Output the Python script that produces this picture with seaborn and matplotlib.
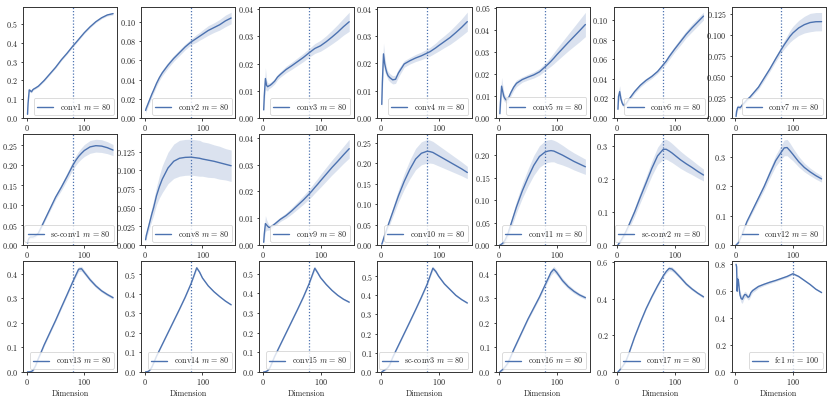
import numpy as np
import pandas as pd
import matplotlib
matplotlib.use("Agg")
import matplotlib.pyplot as plt
from matplotlib.ticker import MultipleLocator, FixedLocator
import seaborn as sns

# ---------------- data ----------------
DIM = [1, 2, 4, 6, 8, 10, 12, 15, 20, 25, 30, 40, 50, 60, 70, 80, 85, 90, 95, 100, 110, 120, 130, 140, 150]
FC1_DIM = [1, 2, 3, 4, 5, 6, 7, 8, 10, 12, 14, 16, 18, 20, 22, 24, 27, 30, 35, 40, 50, 60, 70, 80, 90, 100, 110, 120, 130, 140, 150]

labels = ["conv1", "conv2", "conv3", "conv4", "conv5", "conv6", "conv7",
          "sc-conv1", "conv8", "conv9", "conv10", "conv11", "sc-conv2", "conv12",
          "conv13", "conv14", "conv15", "sc-conv3", "conv16", "conv17", "fc1"]
m_values = [80] * 20 + [100]
ytick_steps = [0.1, 0.02, 0.01, 0.01, 0.01, 0.02, 0.025,
               0.05, 0.025, 0.01, 0.05, 0.05, 0.1, 0.1,
               0.1, 0.1, 0.1, 0.1, 0.1, 0.2, 0.2]

conv1_mean = [0.02, 0.08, 0.15, 0.145, 0.14, 0.15, 0.155, 0.16, 0.17, 0.185, 0.2, 0.235, 0.27, 0.31, 0.345, 0.383, 0.4, 0.418, 0.436, 0.454, 0.485, 0.512, 0.533, 0.548, 0.555]
conv1_err = [0.003, 0.01, 0.01, 0.008, 0.006, 0.005, 0.005, 0.005, 0.005, 0.005, 0.005, 0.005, 0.005, 0.005, 0.005, 0.005, 0.005, 0.005, 0.005, 0.005, 0.005, 0.005, 0.005, 0.006, 0.007]

conv2_mean = [0.008, 0.01, 0.013, 0.016, 0.019, 0.022, 0.025, 0.029, 0.036, 0.042, 0.047, 0.055, 0.062, 0.068, 0.074, 0.079, 0.081, 0.083, 0.085, 0.087, 0.091, 0.094, 0.097, 0.101, 0.104]
conv2_err = [0.003, 0.003, 0.003, 0.003, 0.003, 0.003, 0.003, 0.003, 0.003, 0.003, 0.003, 0.003, 0.003, 0.003, 0.003, 0.003, 0.0035, 0.004, 0.004, 0.0045, 0.005, 0.005, 0.0055, 0.006, 0.006]

conv3_mean = [0.003, 0.008, 0.0145, 0.012, 0.0115, 0.0118, 0.012, 0.0125, 0.0135, 0.015, 0.016, 0.0178, 0.0192, 0.0207, 0.0222, 0.0239, 0.0247, 0.0255, 0.026, 0.0265, 0.028, 0.0297, 0.0315, 0.0335, 0.0353]
conv3_err = [0.001, 0.003, 0.004, 0.002, 0.0015, 0.001, 0.001, 0.001, 0.001, 0.001, 0.001, 0.0012, 0.0013, 0.0014, 0.0015, 0.0016, 0.0017, 0.0018, 0.0019, 0.002, 0.0022, 0.0025, 0.0028, 0.0031, 0.0035]

conv4_mean = [0.005, 0.013, 0.0235, 0.02, 0.018, 0.0165, 0.0155, 0.0148, 0.014, 0.0142, 0.0165, 0.0198, 0.021, 0.022, 0.0228, 0.0238, 0.0243, 0.025, 0.0257, 0.0265, 0.028, 0.0295, 0.0313, 0.0332, 0.0353]
conv4_err = [0.002, 0.004, 0.004, 0.003, 0.002, 0.0015, 0.0015, 0.0015, 0.0015, 0.0015, 0.0015, 0.0012, 0.0012, 0.0013, 0.0014, 0.0015, 0.0016, 0.0017, 0.0018, 0.002, 0.0022, 0.0025, 0.0028, 0.0031, 0.0035]

conv5_mean = [0.002, 0.007, 0.0145, 0.012, 0.0098, 0.0088, 0.0082, 0.0085, 0.0115, 0.014, 0.0158, 0.0175, 0.0186, 0.0196, 0.021, 0.0233, 0.0245, 0.0258, 0.0272, 0.0287, 0.0315, 0.0343, 0.037, 0.0397, 0.0425]
conv5_err = [0.001, 0.003, 0.004, 0.003, 0.002, 0.0015, 0.0015, 0.0015, 0.0015, 0.0015, 0.0015, 0.0012, 0.0013, 0.0014, 0.0015, 0.0017, 0.0019, 0.0022, 0.0025, 0.0028, 0.0033, 0.0038, 0.0044, 0.005, 0.0055]

conv6_mean = [0.009, 0.022, 0.027, 0.02, 0.016, 0.0135, 0.013, 0.0145, 0.019, 0.023, 0.027, 0.0335, 0.0385, 0.0425, 0.0475, 0.0545, 0.058, 0.0625, 0.0665, 0.0705, 0.078, 0.0855, 0.092, 0.098, 0.104]
conv6_err = [0.003, 0.006, 0.006, 0.004, 0.003, 0.002, 0.002, 0.002, 0.002, 0.002, 0.002, 0.002, 0.002, 0.002, 0.002, 0.0025, 0.0025, 0.003, 0.003, 0.003, 0.0035, 0.0035, 0.004, 0.004, 0.004]

conv7_mean = [0.002, 0.008, 0.013, 0.013, 0.0125, 0.014, 0.016, 0.018, 0.022, 0.025, 0.029, 0.037, 0.048, 0.059, 0.071, 0.0825, 0.088, 0.093, 0.098, 0.102, 0.108, 0.112, 0.1145, 0.1155, 0.1156]
conv7_err = [0.002, 0.003, 0.003, 0.002, 0.002, 0.002, 0.002, 0.002, 0.002, 0.002, 0.002, 0.0025, 0.003, 0.003, 0.0035, 0.004, 0.005, 0.006, 0.007, 0.008, 0.009, 0.01, 0.011, 0.011, 0.011]

scconv1_mean = [0.005, 0.012, 0.018, 0.02, 0.02, 0.02, 0.021, 0.023, 0.03, 0.045, 0.06, 0.09, 0.12, 0.145, 0.172, 0.2, 0.212, 0.222, 0.23, 0.237, 0.246, 0.249, 0.248, 0.244, 0.238]
scconv1_err = [0.003, 0.004, 0.004, 0.004, 0.004, 0.004, 0.004, 0.004, 0.004, 0.004, 0.004, 0.005, 0.006, 0.008, 0.009, 0.011, 0.012, 0.013, 0.014, 0.015, 0.016, 0.016, 0.016, 0.015, 0.014]

conv8_mean = [0.007, 0.012, 0.018, 0.024, 0.03, 0.036, 0.042, 0.05, 0.066, 0.078, 0.088, 0.103, 0.112, 0.116, 0.1172, 0.1175, 0.117, 0.1165, 0.116, 0.115, 0.1135, 0.112, 0.11, 0.108, 0.106]
conv8_err = [0.003, 0.004, 0.005, 0.006, 0.007, 0.008, 0.009, 0.01, 0.012, 0.015, 0.018, 0.021, 0.023, 0.024, 0.024, 0.024, 0.024, 0.024, 0.024, 0.023, 0.023, 0.022, 0.022, 0.021, 0.021]

conv9_mean = [0.001, 0.004, 0.008, 0.0075, 0.007, 0.0066, 0.0066, 0.007, 0.0078, 0.0087, 0.0096, 0.011, 0.0128, 0.0148, 0.0168, 0.019, 0.0202, 0.0215, 0.0227, 0.024, 0.0265, 0.029, 0.0313, 0.0337, 0.036]
conv9_err = [0.001, 0.002, 0.003, 0.002, 0.0015, 0.001, 0.0008, 0.0008, 0.0008, 0.0008, 0.0008, 0.001, 0.0012, 0.0014, 0.0016, 0.0018, 0.002, 0.0021, 0.0022, 0.0024, 0.0026, 0.0028, 0.003, 0.0032, 0.0035]

conv10_mean = [0.002, 0.006, 0.015, 0.024, 0.032, 0.04, 0.048, 0.06, 0.08, 0.1, 0.12, 0.155, 0.185, 0.21, 0.224, 0.229, 0.228, 0.226, 0.222, 0.218, 0.21, 0.202, 0.194, 0.186, 0.177]
conv10_err = [0.002, 0.003, 0.004, 0.005, 0.006, 0.007, 0.008, 0.009, 0.011, 0.013, 0.015, 0.019, 0.023, 0.026, 0.028, 0.029, 0.028, 0.027, 0.026, 0.025, 0.023, 0.021, 0.019, 0.017, 0.015]

conv11_mean = [0.0, 0.0005, 0.002, 0.004, 0.007, 0.011, 0.016, 0.025, 0.045, 0.065, 0.085, 0.12, 0.15, 0.177, 0.197, 0.207, 0.209, 0.21, 0.209, 0.206, 0.2, 0.193, 0.186, 0.18, 0.174]
conv11_err = [0.001, 0.001, 0.002, 0.003, 0.004, 0.005, 0.006, 0.007, 0.009, 0.011, 0.013, 0.016, 0.019, 0.022, 0.024, 0.025, 0.025, 0.025, 0.024, 0.024, 0.022, 0.02, 0.019, 0.018, 0.017]

scconv2_mean = [0.0, 0.003, 0.008, 0.013, 0.019, 0.025, 0.031, 0.041, 0.06, 0.08, 0.1, 0.145, 0.188, 0.232, 0.27, 0.29, 0.29, 0.285, 0.279, 0.272, 0.258, 0.246, 0.235, 0.223, 0.212]
scconv2_err = [0.002, 0.003, 0.004, 0.005, 0.006, 0.006, 0.007, 0.008, 0.01, 0.012, 0.013, 0.016, 0.019, 0.022, 0.026, 0.03, 0.03, 0.03, 0.029, 0.028, 0.026, 0.024, 0.022, 0.02, 0.018]

conv12_mean = [0.0, 0.002, 0.005, 0.012, 0.02, 0.03, 0.038, 0.055, 0.08, 0.1, 0.12, 0.16, 0.2, 0.245, 0.288, 0.318, 0.332, 0.333, 0.322, 0.31, 0.285, 0.265, 0.25, 0.237, 0.226]
conv12_err = [0.002, 0.002, 0.003, 0.004, 0.005, 0.005, 0.005, 0.006, 0.006, 0.007, 0.008, 0.01, 0.012, 0.015, 0.019, 0.024, 0.027, 0.028, 0.026, 0.022, 0.018, 0.015, 0.013, 0.012, 0.011]

conv13_mean = [0.0, 0.0, 0.0, 0.001, 0.002, 0.005, 0.012, 0.025, 0.055, 0.082, 0.11, 0.16, 0.21, 0.263, 0.315, 0.368, 0.393, 0.418, 0.42, 0.405, 0.375, 0.35, 0.33, 0.315, 0.302]
conv13_err = [0.001, 0.001, 0.002, 0.003, 0.004, 0.005, 0.005, 0.005, 0.005, 0.005, 0.005, 0.005, 0.005, 0.006, 0.006, 0.007, 0.008, 0.01, 0.01, 0.009, 0.008, 0.007, 0.006, 0.006, 0.006]

conv14_mean = [0.0, 0.0, 0.001, 0.003, 0.008, 0.015, 0.025, 0.045, 0.08, 0.11, 0.14, 0.2, 0.26, 0.32, 0.382, 0.45, 0.49, 0.532, 0.51, 0.48, 0.44, 0.41, 0.385, 0.362, 0.343]
conv14_err = [0.001, 0.001, 0.002, 0.003, 0.003, 0.003, 0.003, 0.003, 0.003, 0.003, 0.003, 0.003, 0.003, 0.003, 0.004, 0.004, 0.006, 0.008, 0.007, 0.005, 0.004, 0.004, 0.003, 0.003, 0.003]

conv15_mean = [0.0, 0.0, 0.001, 0.003, 0.007, 0.013, 0.022, 0.042, 0.078, 0.108, 0.138, 0.198, 0.258, 0.318, 0.38, 0.448, 0.488, 0.528, 0.505, 0.48, 0.445, 0.415, 0.39, 0.37, 0.355]
conv15_err = [0.001, 0.001, 0.002, 0.003, 0.003, 0.003, 0.003, 0.003, 0.003, 0.003, 0.003, 0.003, 0.003, 0.003, 0.004, 0.005, 0.007, 0.01, 0.008, 0.006, 0.005, 0.004, 0.004, 0.004, 0.004]

scconv3_mean = [0.0, 0.002, 0.006, 0.01, 0.014, 0.018, 0.024, 0.038, 0.075, 0.107, 0.138, 0.2, 0.262, 0.325, 0.39, 0.458, 0.5, 0.542, 0.525, 0.5, 0.46, 0.43, 0.4, 0.378, 0.36]
scconv3_err = [0.001, 0.002, 0.003, 0.004, 0.004, 0.004, 0.004, 0.004, 0.004, 0.004, 0.004, 0.004, 0.004, 0.004, 0.005, 0.006, 0.008, 0.01, 0.009, 0.007, 0.006, 0.005, 0.005, 0.004, 0.004]

conv16_mean = [0.0, 0.002, 0.006, 0.01, 0.015, 0.02, 0.026, 0.036, 0.062, 0.09, 0.115, 0.165, 0.215, 0.26, 0.305, 0.355, 0.38, 0.405, 0.418, 0.405, 0.372, 0.347, 0.328, 0.313, 0.302]
conv16_err = [0.002, 0.003, 0.004, 0.005, 0.005, 0.005, 0.005, 0.005, 0.005, 0.005, 0.005, 0.005, 0.005, 0.006, 0.007, 0.008, 0.01, 0.012, 0.012, 0.011, 0.01, 0.009, 0.008, 0.007, 0.007]

conv17_mean = [0.0, 0.003, 0.01, 0.018, 0.026, 0.034, 0.044, 0.06, 0.1, 0.145, 0.19, 0.27, 0.345, 0.41, 0.47, 0.525, 0.548, 0.565, 0.562, 0.548, 0.515, 0.48, 0.453, 0.43, 0.41]
conv17_err = [0.002, 0.003, 0.004, 0.005, 0.005, 0.005, 0.005, 0.005, 0.005, 0.005, 0.005, 0.005, 0.005, 0.006, 0.007, 0.008, 0.01, 0.012, 0.012, 0.011, 0.01, 0.009, 0.008, 0.007, 0.007]

fc1_mean = [0.8, 0.78, 0.6, 0.69, 0.68, 0.64, 0.6, 0.57, 0.545, 0.54, 0.56, 0.575, 0.575, 0.565, 0.555, 0.56, 0.59, 0.605, 0.62, 0.635, 0.652, 0.667, 0.68, 0.695, 0.71, 0.73, 0.71, 0.68, 0.65, 0.615, 0.59]
fc1_err = [0.01, 0.02, 0.03, 0.03, 0.03, 0.03, 0.03, 0.03, 0.03, 0.03, 0.025, 0.025, 0.02, 0.02, 0.02, 0.02, 0.02, 0.015, 0.015, 0.012, 0.01, 0.01, 0.008, 0.008, 0.008, 0.008, 0.006, 0.005, 0.005, 0.005, 0.005]

means = [conv1_mean, conv2_mean, conv3_mean, conv4_mean, conv5_mean, conv6_mean, conv7_mean,
         scconv1_mean, conv8_mean, conv9_mean, conv10_mean, conv11_mean, scconv2_mean, conv12_mean,
         conv13_mean, conv14_mean, conv15_mean, scconv3_mean, conv16_mean, conv17_mean, fc1_mean]
errs = [conv1_err, conv2_err, conv3_err, conv4_err, conv5_err, conv6_err, conv7_err,
        scconv1_err, conv8_err, conv9_err, conv10_err, conv11_err, scconv2_err, conv12_err,
        conv13_err, conv14_err, conv15_err, scconv3_err, conv16_err, conv17_err, fc1_err]

# ---------------- style ----------------
sns.set_theme(style="ticks", palette="deep")
FS = 5.8
plt.rcParams.update({
    "font.family": ["cmr10", "DejaVu Serif"],
    "mathtext.fontset": "cm",
    "axes.formatter.use_mathtext": True,
    "axes.unicode_minus": False,
    "font.size": FS,
    "xtick.labelsize": FS,
    "ytick.labelsize": FS,
    "axes.labelsize": FS,
    "legend.fontsize": FS,
    "axes.edgecolor": "#333333",
    "axes.linewidth": 0.7,
    "xtick.major.size": 1.8,
    "ytick.major.size": 1.8,
    "xtick.major.width": 0.6,
    "ytick.major.width": 0.6,
    "xtick.major.pad": 2.0,
    "ytick.major.pad": 2.0,
    "xtick.color": "#222222",
    "ytick.color": "#222222",
})

blue = sns.color_palette("deep")[0]

fig, axes = plt.subplots(3, 7, figsize=(8.3, 3.99), dpi=100)
fig.subplots_adjust(left=0.028, right=0.995, top=0.982, bottom=0.068, wspace=0.255, hspace=0.144)

for i, ax in enumerate(axes.flat):
    x = FC1_DIM if labels[i] == "fc1" else DIM
    mean = np.array(means[i])
    err = np.array(errs[i])
    df = pd.DataFrame({"Dimension": x, "value": mean})
    lab = labels[i] + r" $m\,=\," + str(m_values[i]) + r"$"
    ax.fill_between(x, mean - err, mean + err, color=blue, alpha=0.2, linewidth=0)
    sns.lineplot(data=df, x="Dimension", y="value", ax=ax, color=blue, linewidth=1.0, label=lab)
    ax.axvline(m_values[i], color=blue, linestyle=(0, (1, 1.5)), linewidth=0.9)
    ax.set_ylim(bottom=0)
    ax.yaxis.set_major_locator(MultipleLocator(ytick_steps[i]))
    ax.xaxis.set_major_locator(FixedLocator([0, 100]))
    ax.set_ylabel("")
    if i >= 14:
        ax.set_xlabel("Dimension", labelpad=1.5)
    else:
        ax.set_xlabel("")
    leg = ax.legend(loc="lower right", frameon=True, fancybox=True, handlelength=2.0,
                    borderpad=0.4, handletextpad=0.8, borderaxespad=0.4)
    leg.get_frame().set_linewidth(0.6)
    for s in ax.spines.values():
        s.set_visible(True)

fig.savefig("out.png", dpi=100)
